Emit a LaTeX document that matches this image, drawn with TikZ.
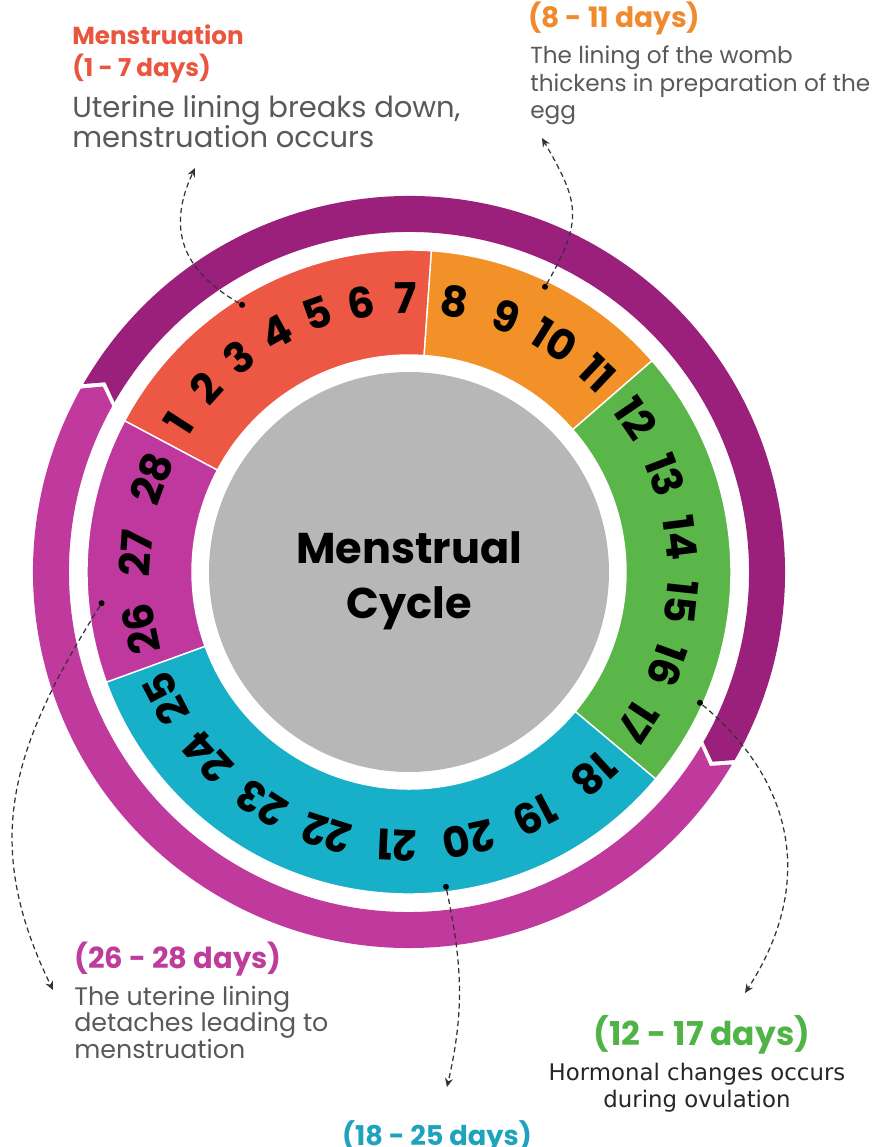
\documentclass[tikz,border=0pt]{standalone}
\usepackage{fontspec}
\setmainfont{Poppins}
\newfontfamily\bodyfont{DejaVu Sans}
\usetikzlibrary{arrows.meta}

\begin{document}
\begin{tikzpicture}[x=0.02cm, y=0.02cm,
    day/.style={font=\bfseries\fontsize{24}{24}\selectfont, inner sep=0},
    dot/.style={circle, fill=black, inner sep=0, minimum size=0.12cm},
    link/.style={draw=black!80, line width=0.7pt, dash pattern=on 3pt off 2pt, -{Stealth[length=5pt,width=4.5pt]}},
    head/.style={font=\bfseries\fontsize{15}{18}\selectfont, anchor=base west, inner sep=0},
    note/.style={text=notegray, align=left, anchor=base west, inner sep=0}]
    % Define phase colors
    \definecolor{segred}{RGB}{236,88,67}
    \definecolor{segorange}{RGB}{242,145,40}
    \definecolor{seggreen}{RGB}{90,182,72}
    \definecolor{segcyan}{RGB}{24,175,200}
    \definecolor{segmagenta}{RGB}{190,56,158}
    \definecolor{ringdark}{RGB}{155,32,124}
    \definecolor{ringmag}{RGB}{192,58,158}
    \definecolor{discgray}{RGB}{183,183,183}
    \definecolor{notegray}{RGB}{88,89,91}
    \definecolor{txtred}{RGB}{233,85,63}
    \definecolor{txtorange}{RGB}{239,138,46}
    \definecolor{txtmagenta}{RGB}{189,60,156}
    \definecolor{txtgreen}{RGB}{79,180,69}
    \definecolor{txtcyan}{RGB}{31,163,188}

    \useasboundingbox (-409,-575) rectangle (469,572);

    % Outer ring arrows
    \fill[ringdark] (150:376) arc[start angle=150, end angle=-30, radius=376] -- (-32:358)
        -- (-30:340) arc[start angle=-30, end angle=150, radius=340] -- (148:358) -- cycle;
    \fill[ringmag] (-30.8:376) arc[start angle=-30.8, end angle=-209.2, radius=376] -- (-211.2:358)
        -- (-209.2:340) arc[start angle=-209.2, end angle=-30.8, radius=340] -- (-32.8:358) -- cycle;

    % Phase segments
    \foreach \a/\b/\c in {152/86/segred, 86/41/segorange, 41/-40/seggreen, -40/-160/segcyan, -160/-208/segmagenta} {
        \fill[\c, draw=white, line width=0.8pt] (\a:322) arc[start angle=\a, end angle=\b, radius=322]
            -- (\b:217) arc[start angle=\b, end angle=\a, radius=217] -- cycle;
    }

    % Center disc
    \fill[discgray] (0,0) circle[radius=200];
    \node[font=\bfseries\fontsize{24.5}{31}\selectfont, align=center] (title) at (0,-9) {Menstrual\\Cycle};

    % Days
    \foreach \d [count=\i] in {1,...,7} {
        \pgfmathsetmacro{\ang}{152-(\i-0.5)*66/7}
        \node[day, rotate=\ang-90] (day\d) at (\ang:274) {\d};
    }
    \foreach \d [count=\i] in {8,...,11} {
        \pgfmathsetmacro{\ang}{86-(\i-0.5)*45/4}
        \node[day, rotate=\ang-90] (day\d) at (\ang:274) {\d};
    }
    \foreach \d [count=\i] in {12,...,17} {
        \pgfmathsetmacro{\ang}{41-(\i-0.5)*81/6}
        \node[day, rotate=\ang-90] (day\d) at (\ang:274) {\d};
    }
    \foreach \d [count=\i] in {18,...,25} {
        \pgfmathsetmacro{\ang}{-40-(\i-0.5)*15}
        \node[day, rotate=\ang-90] (day\d) at (\ang:274) {\d};
    }
    \foreach \d [count=\i] in {26,...,28} {
        \pgfmathsetmacro{\ang}{-160-(\i-0.5)*16}
        \node[day, rotate=\ang-90] (day\d) at (\ang:274) {\d};
    }

    % Pointer dots and arrow ends
    \node[dot] (dotRed) at (122:315) {};
    \node[dot] (dotOrange) at (64.5:316) {};
    \node[dot] (dotGreen) at (-24.2:319) {};
    \node[dot] (dotCyan) at (-83.3:317) {};
    \node[dot] (dotMagenta) at (185.8:309) {};
    \coordinate (tipRed) at (-214,404);
    \coordinate (tipOrange) at (133,434);
    \coordinate (tipGreen) at (336,-421);
    \coordinate (tipCyan) at (38,-515);
    \coordinate (tipMagenta) at (-356,-418);

    \draw[link] (dotRed) to[out=150, in=245, looseness=1.2] (tipRed);
    \draw[link] (dotOrange) to[out=60, in=-60, looseness=1.3] (tipOrange);
    \draw[link] (dotGreen) to[out=-40, in=57, looseness=1.1] (tipGreen);
    \draw[link] (dotCyan) to[out=-78, in=77] (tipCyan);
    \draw[link] (dotMagenta) to[out=238, in=116, looseness=1.1] (tipMagenta);

    % Menstruation
    \node[head, text=txtred, font=\bfseries\fontsize{14}{18}\selectfont] (menHead) at (-337,527) {Menstruation};
    \node[head, text=txtred, font=\bfseries\fontsize{14}{18}\selectfont] (menDays) at (-337,495) {(1 - 7 days)};
    \node[note, font=\fontsize{16.5}{17.6}\selectfont] (menNote) at (-337,424) {Uterine lining breaks down,\\menstruation occurs};

    % Follicular
    \node[head, text=txtorange, font=\bfseries\fontsize{16}{18}\selectfont] (folHead) at (119,544) {(8 - 11 days)};
    \node[note, font=\fontsize{13.2}{15.9}\selectfont] (folNote) at (121,453) {The lining of the womb\\thickens in preparation of the\\egg};

    % Late luteal
    \node[head, text=txtmagenta, font=\bfseries\fontsize{16.5}{18}\selectfont] (lutHead) at (-335,-396) {(26 - 28 days)};
    \node[note, font=\fontsize{14.4}{15}\selectfont] (lutNote) at (-335,-486) {The uterine lining\\detaches leading to\\menstruation};

    % Ovulation
    \node[head, anchor=base, text=txtgreen, font=\bfseries\fontsize{18.7}{20}\selectfont] (ovuHead) at (293,-473) {(12 - 17 days)};
    \node[note, anchor=base, align=center, text=black!85, font=\bodyfont\fontsize{13}{15.3}\selectfont] (ovuNote) at (288,-535) {Hormonal changes occurs\\during ovulation};

    % Luteal
    \node[head, anchor=base, text=txtcyan, font=\bfseries\fontsize{15.5}{20}\selectfont] (proHead) at (28,-573) {(18 - 25 days)};
\end{tikzpicture}
\end{document}
